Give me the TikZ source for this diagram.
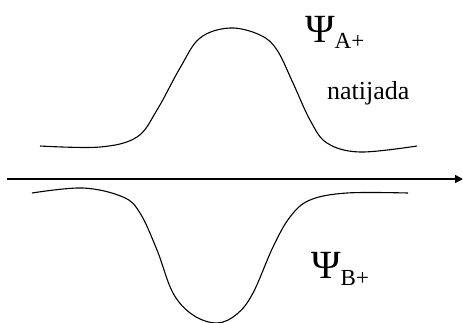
\documentclass[tikz,border=0pt]{standalone}
\usepackage{fontspec}
\setmainfont{Liberation Serif}
\usetikzlibrary{arrows.meta}
\tikzset{>={Triangle[length=8pt,width=8pt]}}

\begin{document}
\begin{tikzpicture}[x=1pt,y=-1pt]
  \useasboundingbox (0,0) rectangle (463,322);

  % axis end points
  \coordinate (O) at (7,179);
  \coordinate (X) at (463,179);

  % axis
  \draw[line width=1.6pt,->] (O) -- (X);

  % upper wave
  \draw[line width=1.1pt] plot[smooth,tension=0.6] coordinates {
    (40,146) (100,147) (137,137) (157,110) (180,68) (200,38) (230,28)
    (260,35) (277,50) (293,83) (310,120) (327,143) (360,152) (417,146)};

  % lower wave
  \draw[line width=1.1pt] plot[smooth,tension=0.6] coordinates {
    (32,193) (83,188) (123,197) (140,213) (157,250) (173,293) (193,315)
    (217,323) (237,314) (253,293) (273,247) (290,217) (310,200) (347,193) (408,193)};

  % labels
  \node[anchor=base west,inner sep=0pt] (psiA) at (305,42)
    {\fontsize{40}{40}\selectfont Ψ\fontsize{23}{23}\selectfont\raisebox{-6pt}{A+}};
  \node[anchor=base west,inner sep=0pt] (nat) at (327,99)
    {\fontsize{26}{26}\selectfont natijada};
  \node[anchor=base west,inner sep=0pt] (psiB) at (311,278)
    {\fontsize{40}{40}\selectfont Ψ\fontsize{23}{23}\selectfont\raisebox{-7pt}{B+}};
\end{tikzpicture}
\end{document}
